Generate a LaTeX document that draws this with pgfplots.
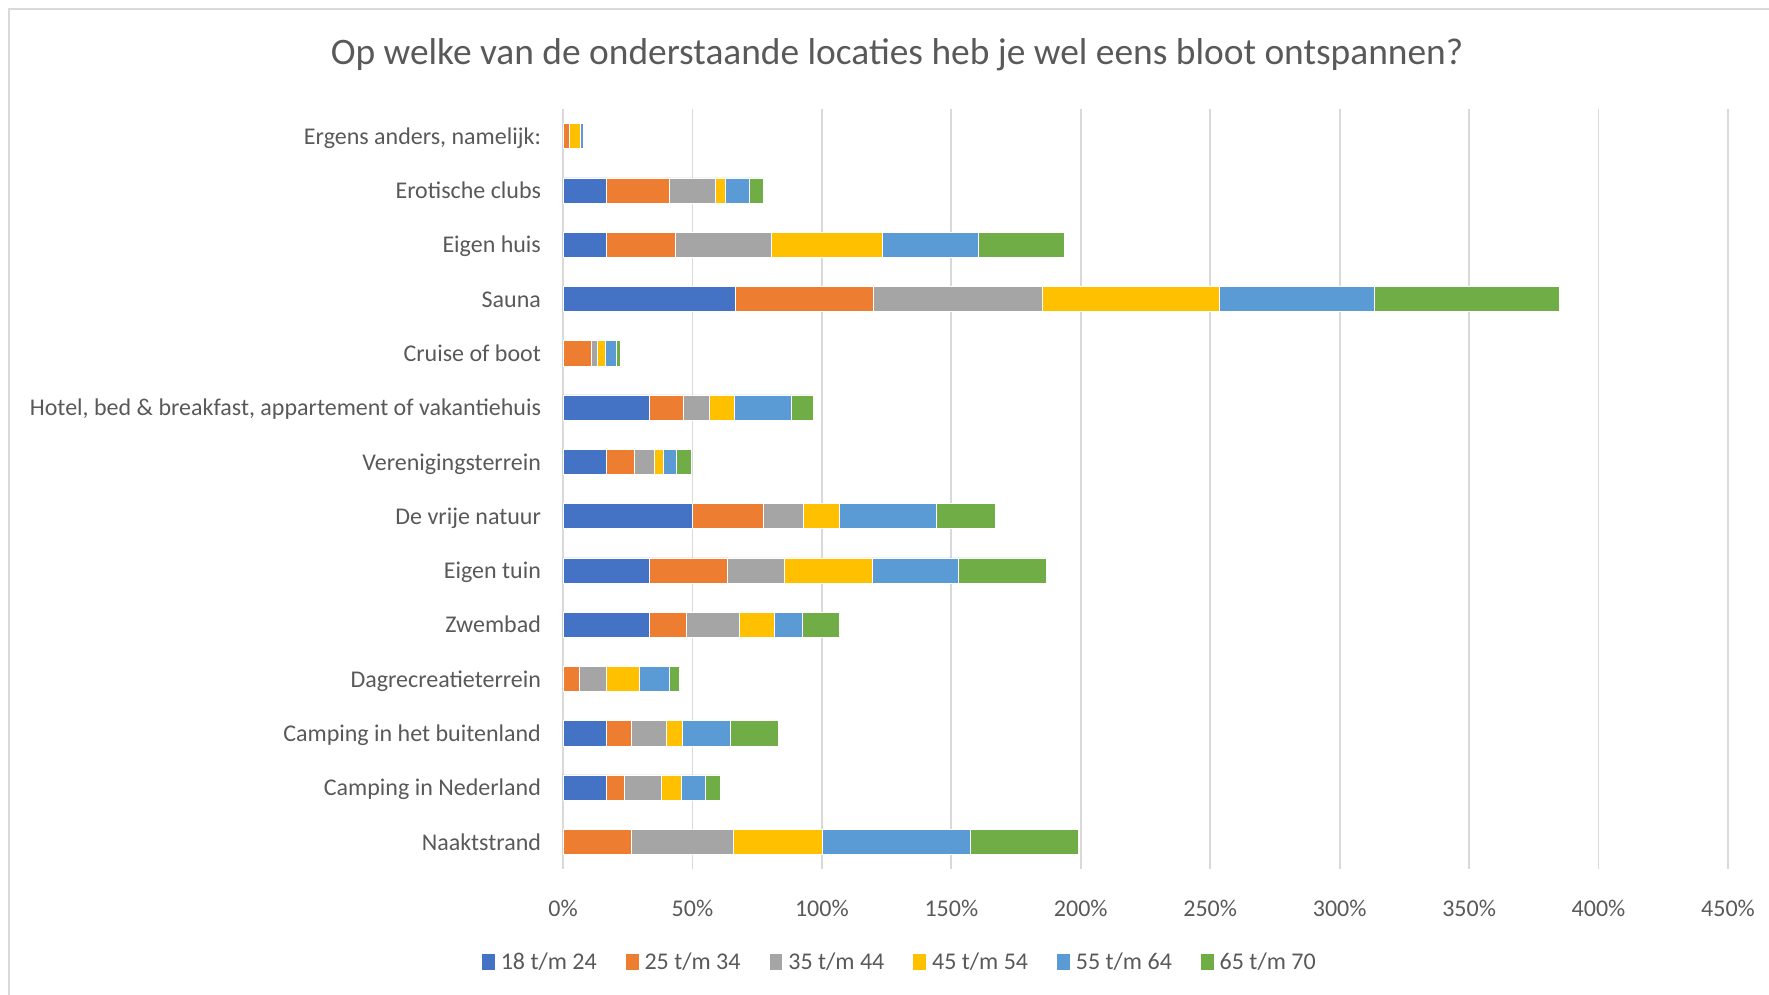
\documentclass[border=0pt]{standalone}
\usepackage{pgfplots}
\usepackage{pgfplotstable}
\pgfplotsset{compat=1.18}
\usepackage{fontspec}
\setmainfont{Carlito}
\definecolor{c1}{RGB}{68,114,196}
\definecolor{c2}{RGB}{237,125,49}
\definecolor{c3}{RGB}{165,165,165}
\definecolor{c4}{RGB}{255,192,0}
\definecolor{c5}{RGB}{91,155,213}
\definecolor{c6}{RGB}{112,173,71}
\definecolor{txt}{RGB}{89,89,89}
\definecolor{gridgray}{RGB}{217,217,217}
\pgfplotstableread{
y a b c d e f
0 0 26.5 39.3 34.3 57.1 42.0
1 16.7 6.8 14.3 7.8 9.2 5.8
2 16.7 9.8 13.3 6.4 18.3 18.6
3 0 6.4 10.5 12.4 11.8 3.8
4 33.3 14.3 20.5 13.6 10.8 14.2
5 33.3 30.3 22.0 33.7 33.4 33.9
6 50.0 27.3 15.5 14.0 37.4 22.8
7 16.7 10.9 7.8 3.4 5.0 5.6
8 33.3 13.2 10.0 9.6 21.9 8.6
9 0 10.9 2.4 3.0 4.1 1.9
10 66.7 53.2 65.3 68.5 59.7 71.6
11 16.7 26.8 37.1 42.9 37.0 33.0
12 16.7 24.5 17.6 3.8 9.2 5.6
13 0 2.4 0 4.1 1.3 0
}\datatable
\begin{document}
\begin{tikzpicture}
\useasboundingbox (0,0) rectangle (884.5pt,497.5pt);
\draw[gridgray, line width=0.8pt] (4.5pt,0) -- (4.5pt,493pt) -- (884.5pt,493pt);
\node[text=txt, font=\fontsize{18.7pt}{22pt}\selectfont] at (448.5pt,470pt) {Op welke van de onderstaande locaties heb je wel eens bloot ontspannen?};
\begin{axis}[
  at={(281.5pt,63pt)}, anchor=south west,
  scale only axis, width=582.5pt, height=380pt,
  xbar stacked, bar width=12.6pt,
  xmin=0, xmax=450, ymin=-0.5, ymax=13.5,
  xtick={0,50,...,450},
  xticklabel={\pgfmathprintnumber{\tick}\%},
  /pgf/number format/assume math mode=true,
  ytick={0,...,13},
  yticklabels={Naaktstrand, Camping in Nederland, Camping in het buitenland, Dagrecreatieterrein, Zwembad, Eigen tuin, De vrije natuur, Verenigingsterrein, {Hotel, bed \& breakfast, appartement of vakantiehuis}, Cruise of boot, Sauna, Eigen huis, Erotische clubs, {Ergens anders, namelijk:}},
  xmajorgrids, grid style={draw=gridgray, line width=0.9pt},
  axis line style={draw=none}, tick style={draw=none},
  ticklabel style={text=txt, font=\fontsize{12pt}{14pt}\selectfont},
  xticklabel style={yshift=-12pt},
  yticklabel style={xshift=-7.5pt, yshift=-1.1pt, text height=8.4pt, text depth=2.4pt},
  legend columns=6,
  legend style={at={(0.29,-0.123)}, anchor=center, draw=none, fill=none,
    font=\fontsize{12pt}{14pt}\selectfont, text=txt,
    /tikz/every odd column/.append style={column sep=1pt},
    /tikz/every even column/.append style={column sep=12.5pt}},
  legend image code/.code={\fill[#1, draw=none] (0pt,-3.6pt) rectangle (6.4pt,4.2pt);},
  every axis plot/.append style={draw=white, line width=0.3pt},
]
\addplot[fill=c1] table[x=a, y=y] {\datatable};
\addplot[fill=c2] table[x=b, y=y] {\datatable};
\addplot[fill=c3] table[x=c, y=y] {\datatable};
\addplot[fill=c4] table[x=d, y=y] {\datatable};
\addplot[fill=c5] table[x=e, y=y] {\datatable};
\addplot[fill=c6] table[x=f, y=y] {\datatable};
\legend{18 t/m 24, 25 t/m 34, 35 t/m 44, 45 t/m 54, 55 t/m 64, 65 t/m 70}
\end{axis}
\end{tikzpicture}
\end{document}
